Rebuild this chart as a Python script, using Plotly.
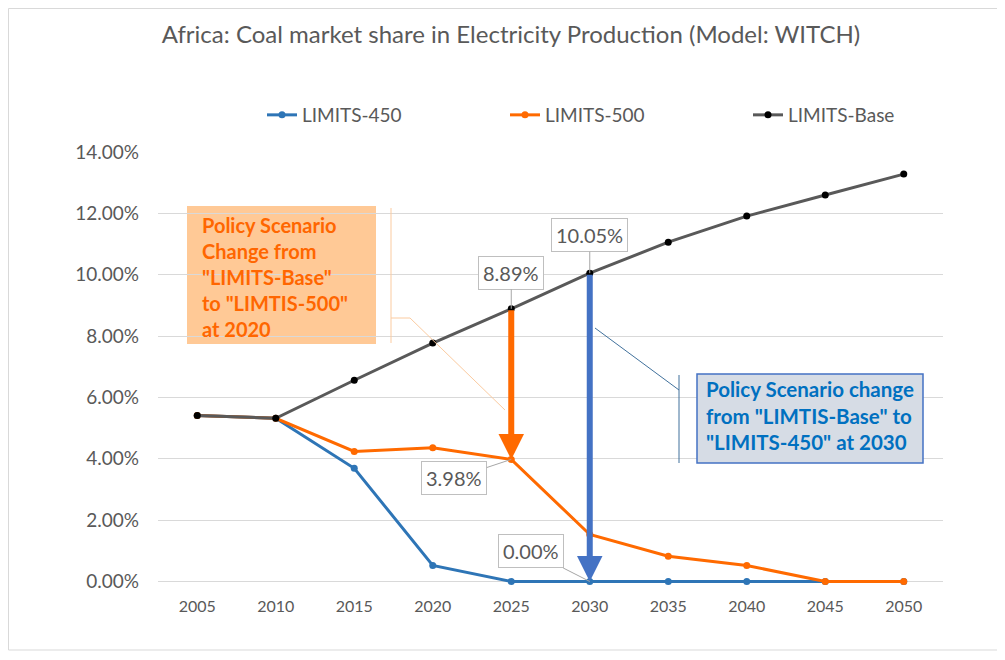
import plotly.graph_objects as go

years = [2005, 2010, 2015, 2020, 2025, 2030, 2035, 2040, 2045, 2050]
limits_450 = [5.41, 5.32, 3.69, 0.52, 0.00, 0.00, 0.00, 0.00, 0.00, 0.00]
limits_500 = [5.41, 5.32, 4.24, 4.36, 3.98, 1.53, 0.82, 0.52, 0.00, 0.00]
limits_base = [5.41, 5.32, 6.56, 7.77, 8.89, 10.05, 11.06, 11.91, 12.60, 13.28]
ytick_vals = [0, 2, 4, 6, 8, 10, 12, 14]
ytick_text = ["0.00%", "2.00%", "4.00%", "6.00%", "8.00%", "10.00%", "12.00%", "14.00%"]

BLUE = "#2E75B6"
ORANGE = "#FF6A00"
GRAY = "#595959"
FONT = "Lato"

OFF = 8  # page body margin
W, H = 1005 - OFF, 660 - OFF
YMIN = -0.05
# plot area in window pixels: x 158..943, y 152..583 (0% at 581)
ML, MT = 158 - OFF, 152 - OFF
MR = W - (943 - OFF)
MB = H - (583 - OFF)
PW, PH = W - ML - MR, H - MT - MB


def px(x):
    return (x - OFF - ML) / PW


def py(y):
    return (H - MB - (y - OFF)) / PH


fig = go.Figure()
fig.add_trace(go.Scatter(x=years, y=limits_450, name="LIMITS-450", mode="lines+markers",
                         line=dict(color=BLUE, width=3), marker=dict(size=7, color=BLUE),
                         cliponaxis=False))
fig.add_trace(go.Scatter(x=years, y=limits_500, name="LIMITS-500", mode="lines+markers",
                         line=dict(color=ORANGE, width=3), marker=dict(size=7, color=ORANGE),
                         cliponaxis=False))
fig.add_trace(go.Scatter(x=years, y=limits_base, name="LIMITS-Base", mode="lines+markers",
                         line=dict(color=GRAY, width=3), marker=dict(size=7, color="black"),
                         cliponaxis=False))

i25 = years.index(2025)
i30 = years.index(2030)

annotations = [
    dict(x=2025, y=limits_500[i25], ax=2025, ay=limits_base[i25], xref="x", yref="y",
         axref="x", ayref="y", text="", showarrow=True, arrowhead=2, arrowsize=0.85,
         arrowwidth=6, arrowcolor=ORANGE, standoff=0),
    dict(x=2030, y=limits_450[i30], ax=2030, ay=limits_base[i30], xref="x", yref="y",
         axref="x", ayref="y", text="", showarrow=True, arrowhead=2, arrowsize=0.85,
         arrowwidth=6, arrowcolor="#4472C4", standoff=0),
]

for x, y, ax, ay in [(2025, limits_base[i25], 0, -36), (2030, limits_base[i30], 0, -38),
                     (2025, limits_500[i25], -57, 19), (2030, limits_450[i30], -59, -30)]:
    annotations.append(dict(x=x, y=y, ax=ax, ay=ay, xref="x", yref="y",
                            text=f"{y:.2f}%", showarrow=True, arrowhead=0, arrowwidth=1,
                            arrowcolor="#A6A6A6", bgcolor="white", bordercolor="#BFBFBF",
                            borderwidth=1, borderpad=4,
                            font=dict(family=FONT, size=20, color=GRAY)))

annotations.append(dict(x=px(200), y=py(211), xref="paper", yref="paper", xanchor="left",
                        yanchor="top", align="left", showarrow=False,
                        text="Policy Scenario<br>Change from<br>\"LIMITS-Base\"<br>to \"LIMTIS-500\"<br>at 2020",
                        font=dict(family=FONT, size=20, color="#FF6600", weight="bold")))
annotations.append(dict(x=px(704), y=py(375), xref="paper", yref="paper", xanchor="left",
                        yanchor="top", align="left", showarrow=False,
                        text="Policy Scenario change<br>from \"LIMTIS-Base\" to<br>\"LIMITS-450\" at 2030",
                        font=dict(family=FONT, size=20.5, color="#0070C0", weight="bold")))

shapes = [
    dict(type="rect", xref="paper", yref="paper", x0=px(187), x1=px(376), y0=py(344), y1=py(206),
         fillcolor="#FFC996", line=dict(width=0), layer="below"),
    dict(type="line", xref="paper", yref="paper", x0=px(391), x1=px(391), y0=py(208), y1=py(343),
         line=dict(color="#FBCBA0", width=1)),
    dict(type="path", xref="paper", yref="paper",
         path=f"M {px(391)},{py(318)} L {px(410)},{py(318)} L {px(505)},{py(410)}",
         line=dict(color="#FBCBA0", width=1)),
    dict(type="rect", xref="paper", yref="paper", x0=px(697), x1=px(923), y0=py(463), y1=py(374),
         fillcolor="#D6DCE5", line=dict(color="#4472C4", width=1.5)),
    dict(type="line", xref="paper", yref="paper", x0=px(679), x1=px(679), y0=py(375), y1=py(463),
         line=dict(color="#41719C", width=1)),
    dict(type="line", xref="paper", yref="paper", x0=px(679), x1=px(595), y0=py(390), y1=py(328),
         line=dict(color="#41719C", width=1)),
    dict(type="rect", xref="paper", yref="paper", x0=px(8.5), x1=px(1000), y0=py(650), y1=py(8.5),
         line=dict(color="#D9D9D9", width=1)),
]

fig.update_layout(
    width=W, height=H,
    margin=dict(l=ML, r=MR, t=MT, b=MB),
    paper_bgcolor="white", plot_bgcolor="white",
    title=dict(text="Africa: Coal market share in Electricity Production (Model: WITCH)",
               x=px(511), xref="paper", xanchor="center", y=1 - (35 - OFF) / H, yanchor="middle",
               font=dict(family=FONT, size=24, color=GRAY)),
    legend=dict(orientation="h", x=px(262), xanchor="left", y=py(115), yanchor="middle",
                font=dict(family=FONT, size=19, color=GRAY), itemwidth=30,
                entrywidth=198, entrywidthmode="pixels"),
    xaxis=dict(range=[2002.5, 2052.5], tickvals=years, showgrid=False, zeroline=False,
               showline=False, ticks="", ticklabelstandoff=12,
               tickfont=dict(family=FONT, size=16, color=GRAY)),
    yaxis=dict(range=[YMIN, 14], tickvals=ytick_vals, ticktext=ytick_text, showgrid=True,
               gridcolor="#D9D9D9", gridwidth=1, zeroline=False, showline=False, ticks="",
               ticklabelstandoff=18, tickfont=dict(family=FONT, size=19, color=GRAY)),
    annotations=annotations, shapes=shapes, showlegend=True,
)

fig.write_html("out.html")
